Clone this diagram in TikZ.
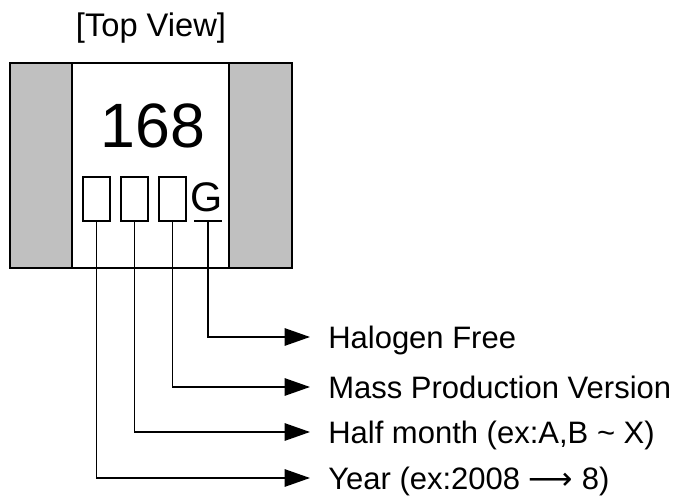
\documentclass[tikz,border=0pt]{standalone}
\usepackage{fontspec}
\setmainfont{Liberation Sans}
\newfontfamily\arrowfont{DejaVu Sans}
\usetikzlibrary{arrows.meta, positioning}
\definecolor{termgray}{RGB}{192, 192, 192}

\begin{document}
\begin{tikzpicture}[x=0.75pt, y=-0.75pt,
  chip/.style={draw, line width=2.1pt},
  term/.style={draw, line width=2.1pt, fill=termgray},
  digit/.style={draw, line width=1.5pt, minimum width=20.25pt, minimum height=33pt, inner sep=0pt},
  conn/.style={line width=1.3pt, -{Triangle[length=19pt, width=13pt]}},
  lbl/.style={font=\fontsize{23.25pt}{28pt}\selectfont, text height=16.6pt, text depth=0pt, inner sep=0pt, anchor=west}
]
  \useasboundingbox (0,0) rectangle (684,498);

  % title
  \node[font=\fontsize{24.5pt}{29pt}\selectfont, text height=17.5pt, text depth=0pt, inner sep=0pt] (title) at (151,25) {[Top View]};

  % chip body with terminals
  \draw[term] (10,63) rectangle (72,268);
  \draw[term] (229,63) rectangle (292,268);
  \draw[chip] (10,63) rectangle (292,268);

  % marking
  \node[font=\fontsize{47pt}{56pt}\selectfont, inner sep=0pt, text height=33.6pt, text depth=0pt] (code) at (153,125.5) {168};
  \node[digit] (yearbox) at (96.5,199) {};
  \node[digit] (halfbox) at (134.5,199) {};
  \node[digit] (massbox) at (172.5,199) {};
  \node[font=\fontsize{31pt}{37pt}\selectfont, inner sep=0pt, text height=22.2pt, text depth=0pt] (G) at (207,197) {G};
  \draw[line width=1.5pt] (194,221) -- (222,221) coordinate[pos=0.5] (gbase);

  % legend
  \node[lbl] (halogen) at (328,337) {Halogen Free};
  \node[lbl] (mass) at (328,387) {Mass Production Version};
  \node[lbl] (half) at (328,432) {Half month (ex:A,B \textasciitilde{} X)};
  \node[lbl] (year) at (328,478) {Year (ex:2008 {\arrowfont ⟶} 8)};

  \draw[conn] (gbase) |- ([xshift=-13.5pt]halogen.west);
  \draw[conn] (massbox.south) |- ([xshift=-13.5pt]mass.west);
  \draw[conn] (halfbox.south) |- ([xshift=-13.5pt]half.west);
  \draw[conn] (yearbox.south) |- ([xshift=-13.5pt]year.west);
\end{tikzpicture}
\end{document}
